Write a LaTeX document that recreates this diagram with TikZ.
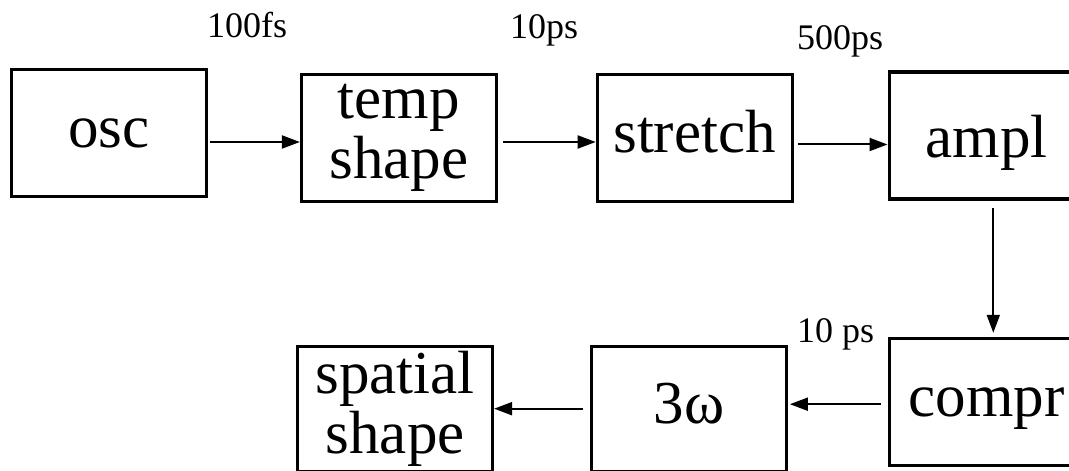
\documentclass[tikz,border=0pt]{standalone}
\usepackage{fontspec}
\setmainfont{Liberation Serif}
\usetikzlibrary{arrows.meta, positioning}

\begin{document}
\begin{tikzpicture}[
  x=1pt, y=1pt,
  node distance=95pt,
  blk/.style={rectangle, draw, line width=2.8pt, minimum width=195pt, minimum height=127pt, inner sep=0pt, font=\fontsize{61}{60}\selectfont},
  one/.style={blk, text height=42pt, text depth=13pt},
  two/.style={blk, align=center},
  lbl/.style={anchor=base west, inner sep=0pt, font=\fontsize{36}{40}\selectfont},
  conn/.style={-{Triangle[length=18pt, width=13pt]}, line width=2pt}
]
\useasboundingbox (0,0) rectangle (1069,471);

\node[one] (osc) at (109,338) {osc\hspace{26pt}};
\node[two, right=92pt of osc, yshift=-5pt] (temp) {temp\\shape};
\node[one, right=98pt of temp] (stretch) {stretch};
\node[one, right=94pt of stretch, yshift=2.5pt, line width=3.6pt, text height=50pt, text depth=5pt] (ampl) {ampl};

\node[one, below=136pt of ampl] (compr) {compr};
\node[one, left=100pt of compr, yshift=-7pt, minimum height=125pt] (omega) {3ω\hspace{46pt}};
\node[two, left=96pt of omega, minimum height=125pt] (spatial) {spatial\\shape};

\node[lbl] (t1) at (207,433) {100fs};
\node[lbl] (t2) at (510,432) {10ps};
\node[lbl] (t3) at (797,421) {500ps};
\node[lbl] (t4) at (797,128) {10 ps};

\draw[conn] ([xshift=2pt,yshift=-9pt]osc.east) -- ([yshift=-4pt]temp.west);
\draw[conn] ([xshift=5pt,yshift=-4pt]temp.east) -- ([yshift=-4pt]stretch.west);
\draw[conn] ([xshift=4pt,yshift=-6.5pt]stretch.east) -- ([yshift=-9pt]ampl.west);
\draw[conn] ([xshift=6.5pt,yshift=-7pt]ampl.south) -- ([xshift=6.5pt,yshift=4pt]compr.north);
\draw[conn] ([xshift=-7pt,yshift=-2.5pt]compr.west) -- ([xshift=2pt,yshift=4.5pt]omega.east);
\draw[conn] ([xshift=-7pt]omega.west) -- (spatial.east);

\end{tikzpicture}
\end{document}
